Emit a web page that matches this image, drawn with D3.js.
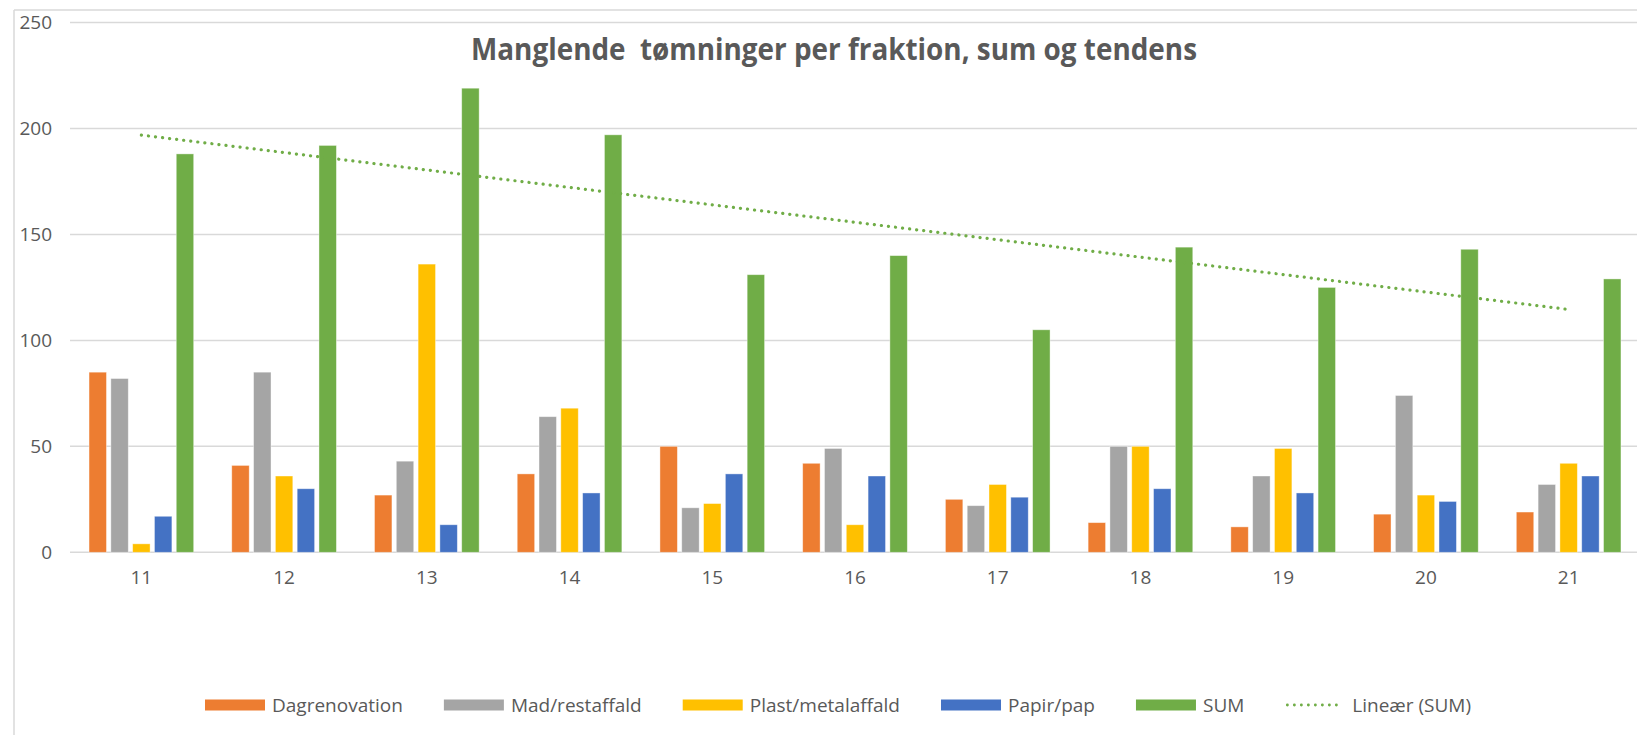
<!DOCTYPE html>
<html><head><meta charset="utf-8">
<script src="https://cdn.jsdelivr.net/npm/d3@7"></script>
<style>
html,body{margin:0;padding:0;background:#fff;overflow:hidden;}
svg{display:block;}
</style></head>
<body>
<svg id="chart" width="1637" height="735"></svg>
<script>
const categories = ["11","12","13","14","15","16","17","18","19","20","21"];
const seriesNames = ["Dagrenovation","Mad/restaffald","Plast/metalaffald","Papir/pap","SUM"];
const dagrenovation = [85,41,27,37,50,42,25,14,12,18,19];
const madRestaffald = [82,85,43,64,21,49,22,50,36,74,32];
const plastMetal    = [4,36,136,68,23,13,32,50,49,27,42];
const papirPap      = [17,30,13,28,37,36,26,30,28,24,36];
const sumValues     = [188,192,219,197,131,140,105,144,125,143,129];
const yTicks = [0,50,100,150,200,250];
const titleText = "Manglende  tømninger per fraktion, sum og tendens";
const trendLabel = "Lineær (SUM)";
const colors = ["#ED7D31","#A5A5A5","#FFC000","#4472C4","#70AD47"];

const seriesData = [dagrenovation, madRestaffald, plastMetal, papirPap, sumValues];
const textColor = "#595959";
const font = "'Open Sans', 'Noto Sans', sans-serif";

const svg = d3.select("#chart");

// chart frame
svg.append("line").attr("x1",14).attr("x2",1637).attr("y1",10).attr("y2",10)
  .attr("stroke","#D9D9D9").attr("stroke-width",1.5);
svg.append("line").attr("x1",14).attr("x2",14).attr("y1",10).attr("y2",735)
  .attr("stroke","#D9D9D9").attr("stroke-width",1.5);

const x0 = d3.scaleBand().domain(categories).range([70,1640]).padding(0);
const x1 = d3.scaleBand().domain(seriesNames).range([0,x0.bandwidth()])
  .paddingInner(0.2).paddingOuter(0.873);
const y = d3.scaleLinear().domain([0,250]).range([552.3,22.5]);

// gridlines
svg.append("g").selectAll("line").data(yTicks).join("line")
  .attr("x1",70).attr("x2",1640)
  .attr("y1",d=>y(d)).attr("y2",d=>y(d))
  .attr("stroke","#D9D9D9").attr("stroke-width",1.5);

// y axis labels
const yAxis = d3.axisLeft(y).tickValues(yTicks).tickSize(0).tickPadding(0);
const yg = svg.append("g").attr("transform","translate(52,0)").call(yAxis);
yg.select(".domain").remove();
yg.selectAll("text").attr("fill",textColor).attr("font-family",font).attr("font-size",19);

// x axis labels
const xAxis = d3.axisBottom(x0).tickSize(0).tickPadding(0);
const xg = svg.append("g").attr("transform","translate(0,570)").call(xAxis);
xg.select(".domain").remove();
xg.selectAll("text").attr("fill",textColor).attr("font-family",font).attr("font-size",19)
  .attr("dy","0.71em");

// bars
const groups = svg.append("g").selectAll("g").data(categories).join("g")
  .attr("transform",d=>`translate(${x0(d)},0)`);
groups.selectAll("rect")
  .data((c,i)=>seriesNames.map((s,j)=>({s, j, v: seriesData[j][i]})))
  .join("rect")
  .attr("x",d=>x1(d.s))
  .attr("width",x1.bandwidth())
  .attr("y",d=>y(d.v))
  .attr("height",d=>y(0)-y(d.v))
  .attr("fill",d=>colors[d.j])
  .attr("stroke","#ffffff").attr("stroke-opacity",0.5).attr("stroke-width",0.8);

// linear trend on SUM
const xs = categories.map(Number);
const mx = d3.mean(xs), my = d3.mean(sumValues);
const slope = d3.sum(xs.map((xv,i)=>(xv-mx)*(sumValues[i]-my))) / d3.sum(xs.map(xv=>(xv-mx)*(xv-mx)));
const icpt = my - slope*mx;
const first = categories[0], last = categories[categories.length-1];
svg.append("line")
  .attr("x1",x0(first)+x0.bandwidth()/2).attr("y1",y(icpt+slope*Number(first)))
  .attr("x2",x0(last)+x0.bandwidth()/2).attr("y2",y(icpt+slope*Number(last)))
  .attr("stroke","#70AD47").attr("stroke-width",3.2)
  .attr("stroke-linecap","round").attr("stroke-dasharray","0.1 7");

// title
svg.append("text")
  .attr("x",471).attr("y",60)
  .attr("textLength",726).attr("lengthAdjust","spacingAndGlyphs")
  .style("white-space","pre")
  .attr("fill",textColor).attr("font-family",font).attr("font-weight",700).attr("font-size",30)
  .text(titleText);

// legend
const legendItems = seriesNames.map((s,i)=>({label:s, color:colors[i], type:"rect"}))
  .concat([{label:trendLabel, color:"#70AD47", type:"line"}]);
const lg = svg.append("g");
const ly = 705;
let cx = 0;
legendItems.forEach((it)=>{
  const g = lg.append("g");
  if(it.type==="rect"){
    g.append("rect").attr("x",cx).attr("y",ly-5.5).attr("width",60).attr("height",11).attr("fill",it.color);
  } else {
    g.append("line").attr("x1",cx+2).attr("x2",cx+58).attr("y1",ly).attr("y2",ly)
      .attr("stroke",it.color).attr("stroke-width",2.8)
      .attr("stroke-linecap","round").attr("stroke-dasharray","0.1 6.9");
  }
  const t = g.append("text").attr("x",cx+67).attr("y",ly).attr("dy","0.35em")
    .attr("fill",textColor).attr("font-family",font).attr("font-size",19).text(it.label);
  const w = t.node().getComputedTextLength();
  cx += 67 + w + 41;
});
const total = cx - 41;
lg.attr("transform",`translate(${838 - total/2},0)`);
</script>
</body></html>
